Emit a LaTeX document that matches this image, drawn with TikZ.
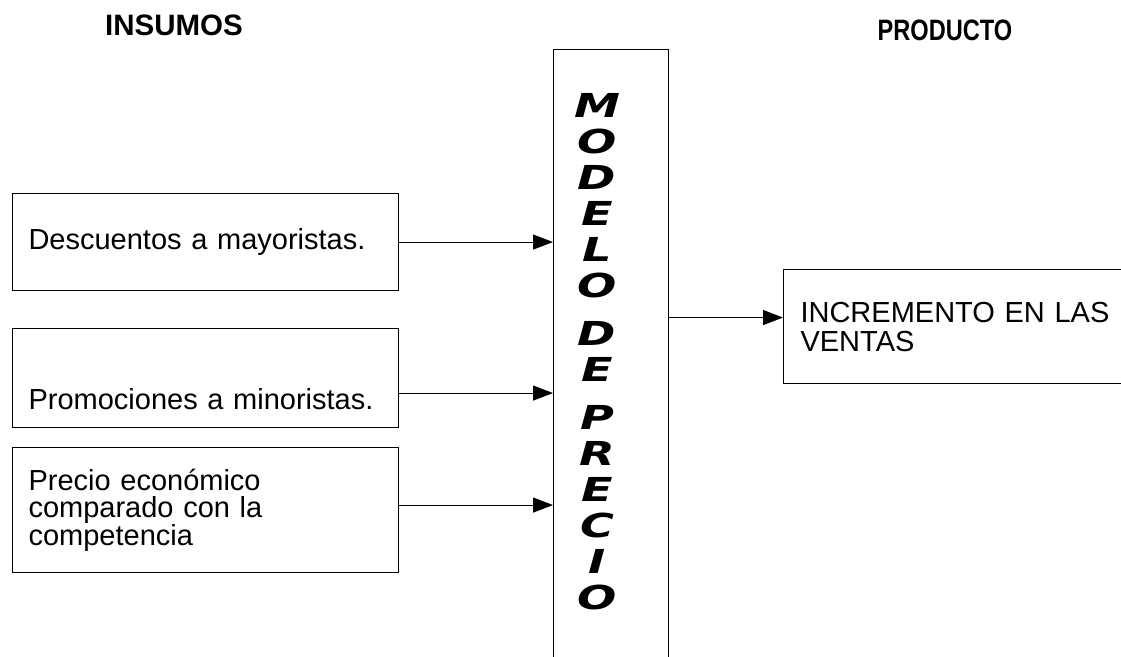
\documentclass[tikz,border=0pt]{standalone}
\usepackage{fontspec}
\usepackage{graphicx}
\setmainfont{Liberation Sans}
\newfontfamily\modelofont{DejaVu Sans}[FakeStretch=1.4]
\usetikzlibrary{arrows.meta,calc}

\begin{document}
\begin{tikzpicture}[
        x=1pt, y=-1pt,
        insumo/.style={
            rectangle,
            draw=black,
            line width=1.1pt,
            anchor=north west,
            minimum width=386pt,
            text width=354pt,
            inner xsep=16pt,
            align=left,
            font=\fontsize{29}{27}\selectfont
        },
        producto/.style={
            rectangle,
            draw=black,
            line width=1.1pt,
            anchor=north west,
            minimum width=360pt,
            minimum height=114pt,
            text width=326pt,
            inner xsep=17pt,
            align=left,
            font=\fontsize{29}{29}\selectfont
        },
        modelobox/.style={
            rectangle,
            draw=black,
            line width=1.1pt,
            anchor=north west,
            minimum width=115pt,
            minimum height=640pt
        },
        letras/.style={
            inner sep=0pt,
            align=center,
            font=\modelofont\bfseries\itshape\fontsize{33}{36}\selectfont
        },
        titulo/.style={
            font=\bfseries\fontsize{29.5}{30}\selectfont
        },
        flecha/.style={
            -{Triangle[length=20pt,width=15pt]},
            line width=1.1pt,
            draw=black
        }
    ]

    \useasboundingbox (0,0) rectangle (1121,656);
    \clip (0,0) rectangle (1121,656);

    % --- Titulos ---
    \node[titulo] (insumos) at (174,25) {INSUMOS};
    \node[titulo] (product) at (945,30) {\scalebox{0.8}[1]{PRODUCTO}};

    % --- Insumos ---
    \node[insumo, minimum height=97pt] (desc) at (12,193) {Descuentos a mayoristas.};
    \node[insumo, minimum height=99pt] (promo) at (12,328) {\raisebox{-26pt}[10pt][0pt]{Promociones a minoristas.}};
    \node[insumo, minimum height=125pt] (precio) at (12,447) {Precio económico\\comparado con la\\competencia};

    % --- Modelo ---
    \node[modelobox] (modelo) at (553,49) {};
    \node[letras, anchor=north] (palabras) at (597,93) {M\\O\\D\\E\\L\\O\\[12pt]D\\E\\[12pt]P\\R\\E\\C\\I\\O};

    % --- Producto ---
    \node[producto] (ventas) at (783,269) {INCREMENTO EN LAS\\VENTAS};

    % Flechas
    \coordinate (p2) at ($(promo.east)+(0,15)$);
    \coordinate (p3) at ($(precio.east)+(0,-5)$);
    \coordinate (salida) at ($(ventas.west)+(0,-9)$);
    \draw[flecha] (desc.east) -- (desc.east -| modelo.west);
    \draw[flecha] (p2) -- (p2 -| modelo.west);
    \draw[flecha] (p3) -- (p3 -| modelo.west);
    \draw[flecha] (salida -| modelo.east) -- (salida);

\end{tikzpicture}
\end{document}
